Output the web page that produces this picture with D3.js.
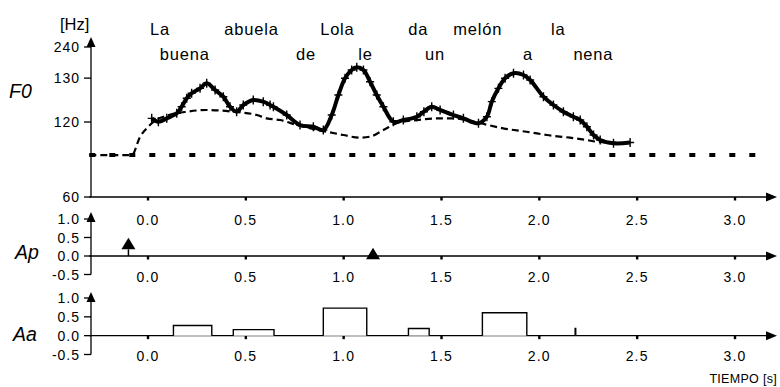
<!DOCTYPE html>
<html><head><meta charset="utf-8">
<script src="https://cdn.jsdelivr.net/npm/d3@7"></script>
<style>body{margin:0;background:#fff}svg{display:block}</style>
</head><body><svg id="c" width="780" height="387"></svg>
<script>
// ---- data ----
const timeTicks = [0, 0.5, 1.0, 1.5, 2.0, 2.5, 3.0];
const timeTickLabels = ["0.0", "0.5", "1.0", "1.5", "2.0", "2.5", "3.0"];
const f0TickValues = [60, 120, 180, 240];
const f0TickLabels = ["60", "120", "130", "240"];
const ampTicks = [-0.5, 0, 0.5, 1.0];
const ampTickLabels = ["-0.5", "0.0", "0.5", "1.0"];
const wordsTop = ["La", "abuela", "Lola", "da", "melón", "la"];
const wordsTopTime = [0.01, 0.39, 0.88, 1.33, 1.56, 2.06];
const wordsBottom = ["buena", "de", "le", "un", "a", "nena"];
const wordsBottomTime = [0.06, 0.757, 1.075, 1.416, 1.916, 2.174];
const baselineF0 = 88.4;
const f0Time = [0.019,0.053,0.096,0.147,0.172,0.198,0.223,0.266,0.300,0.343,0.385,0.419,0.453,0.487,0.538,0.589,0.624,0.641,0.709,0.777,0.845,0.896,0.939,0.973,1.007,1.041,1.067,1.101,1.135,1.169,1.203,1.254,1.305,1.374,1.41,1.450,1.493,1.561,1.612,1.689,1.732,1.757,1.791,1.825,1.868,1.919,1.953,2.021,2.072,2.123,2.174,2.209,2.243,2.277,2.311,2.379,2.464];
const f0Hz = [124.1,120.3,124.1,130.0,138.2,149.4,156.5,163.8,171.6,161.3,151.6,138.2,132.0,140.4,147.1,144.8,140.4,138.2,128.0,116.7,114.9,111.4,128.0,154.0,179.7,194.0,199.0,194.0,174.1,154.0,138.2,120.3,122.2,126.0,132.0,138.2,134.1,128.0,124.1,118.6,126.0,144.8,163.8,179.7,188.2,185.3,176.9,151.6,140.4,132.0,126.0,122.2,114.9,106.4,101.6,98.6,99.3];
const phraseTime = [-0.3,-0.083,-0.041,0.002,0.036,0.10,0.198,0.300,0.435,0.556,0.607,0.675,0.760,0.914,0.998,1.084,1.135,1.203,1.271,1.374,1.493,1.561,1.697,1.815,1.953,2.038,2.157,2.243,2.294,2.464];
const phraseHz = [88.4,88.4,104.5,115.0,121.5,127.5,132.0,134.1,132.0,128.0,124.1,122.2,116.7,109.7,106.4,103.8,104.8,111.4,118.6,122.2,124.1,124.1,118.6,113.2,109.1,106.4,103.8,101.6,100.0,98.6];
const apTime = [-0.10, 1.15];
const apAmp = [0.49, 0.22];
const aaOnset = [0.13, 0.436, 0.896, 1.331, 1.709, 2.183];
const aaOffset = [0.326, 0.644, 1.118, 1.437, 1.936, 2.186];
const aaAmp = [0.27, 0.16, 0.73, 0.19, 0.61, 0.19];

// ---- scales ----
const svg = d3.select("#c");
const FONT = "'Liberation Sans', Arial, sans-serif";
const x = d3.scaleLinear().domain([0, 3]).range([148, 735]);
const xStart = x(-0.3), xEnd = 777;
const yF0 = d3.scaleLog().domain([60, 240]).range([197, 47]);
const yAp = d3.scaleLinear().domain([-0.5, 1]).range([274.5, 219]);
const yAa = d3.scaleLinear().domain([-0.5, 1]).range([354.5, 298]);

function hAxis(y0, labelY) {
  const g = svg.append("g");
  g.append("line").attr("x1", xStart).attr("x2", xEnd - 8).attr("y1", y0).attr("y2", y0)
    .attr("stroke", "#000").attr("stroke-width", 1.3);
  g.append("path").attr("d", `M${xEnd},${y0}L${xEnd-11},${y0-4.5}L${xEnd-11},${y0+4.5}Z`).attr("fill", "#000");
  g.selectAll("rect.t").data(timeTicks).join("rect")
    .attr("x", d => x(d) - 1.2).attr("y", y0).attr("width", 2.4).attr("height", 3.5).attr("fill", "#000");
  g.selectAll("text").data(timeTicks).join("text")
    .attr("x", d => x(d)).attr("y", labelY).attr("text-anchor", "middle")
    .attr("font-family", FONT).attr("font-size", 14).attr("letter-spacing", 1.2)
    .text((d, i) => timeTickLabels[i]);
}
function vAxis(scale, bottomVal, topY, ticks, labels) {
  const g = svg.append("g");
  const ax = 91;
  g.append("line").attr("x1", ax).attr("x2", ax).attr("y1", scale(bottomVal)).attr("y2", topY + 6)
    .attr("stroke", "#000").attr("stroke-width", 1.3);
  g.append("path").attr("d", `M${ax},${topY}L${ax-4.5},${topY+10}L${ax+4.5},${topY+10}Z`).attr("fill", "#000");
  g.selectAll("line.t").data(ticks).join("line").attr("class", "t")
    .attr("x1", ax - 7).attr("x2", ax).attr("y1", d => scale(d)).attr("y2", d => scale(d))
    .attr("stroke", "#000").attr("stroke-width", 1.3);
  g.selectAll("text").data(ticks).join("text")
    .attr("x", 80).attr("y", d => scale(d)).attr("dy", "0.36em").attr("text-anchor", "end")
    .attr("font-family", FONT).attr("font-size", 14).attr("letter-spacing", 1)
    .text((d, i) => labels[i]);
}

// axes
hAxis(yF0(60), 225);
hAxis(yAp(0), 282);
hAxis(yAa(0), 361);
vAxis(yF0, 60, 37, f0TickValues, f0TickLabels);
vAxis(yAp, -0.5, 212, ampTicks, ampTickLabels);
vAxis(yAa, -0.5, 292, ampTicks, ampTickLabels);

// axis titles
svg.append("text").attr("x", 60).attr("y", 30).attr("font-family", FONT).attr("font-size", 16.5).text("[Hz]");
[["F0", 9, 98], ["Ap", 15, 259], ["Aa", 13, 341]].forEach(([t, xx, yy]) =>
  svg.append("text").attr("x", xx).attr("y", yy).attr("font-family", FONT).attr("font-size", 19.5)
    .attr("font-style", "italic").text(t));
svg.append("text").attr("x", 777).attr("y", 383).attr("text-anchor", "end")
  .attr("font-family", FONT).attr("font-size", 12.5).attr("letter-spacing", 0.3).text("TIEMPO [s]");

// words
svg.append("g").selectAll("text").data(wordsTop).join("text")
  .attr("x", (d, i) => x(wordsTopTime[i])).attr("y", 35)
  .attr("font-family", FONT).attr("font-size", 16.5).attr("letter-spacing", 0.8).text(d => d);
svg.append("g").selectAll("text").data(wordsBottom).join("text")
  .attr("x", (d, i) => x(wordsBottomTime[i])).attr("y", 60)
  .attr("font-family", FONT).attr("font-size", 16.5).attr("letter-spacing", 0.8).text(d => d);

// baseline Fb
svg.append("line").attr("x1", xStart).attr("x2", x(3.17)).attr("y1", yF0(baselineF0)).attr("y2", yF0(baselineF0))
  .attr("stroke", "#000").attr("stroke-width", 4).attr("stroke-dasharray", "6,14");

// phrase component
const phraseLine = d3.line().x(d => x(d[0])).y(d => yF0(d[1])).curve(d3.curveMonotoneX);
svg.append("path").datum(phraseTime.map((t, i) => [t, phraseHz[i]]))
  .attr("d", phraseLine).attr("fill", "none").attr("stroke", "#000").attr("stroke-width", 2.2)
  .attr("stroke-dasharray", "7,4");

// F0 contour
const f0Pts = f0Time.map((t, i) => [t, f0Hz[i]]);
const f0Line = d3.line().x(d => x(d[0])).y(d => yF0(d[1])).curve(d3.curveCatmullRom);
svg.append("path").datum(f0Pts).attr("d", f0Line).attr("fill", "none")
  .attr("stroke", "#000").attr("stroke-width", 4).attr("stroke-linejoin", "round");
svg.append("g").selectAll("path").data(f0Pts).join("path")
  .attr("transform", d => `translate(${x(d[0])},${yF0(d[1])})`)
  .attr("d", "M-4,0H4M0,-4.5V4.5").attr("stroke", "#000").attr("stroke-width", 1.4);

// Ap commands
apTime.forEach((t, i) => {
  const xx = x(t), tip = yAp(apAmp[i]), base = tip + 11.5;
  if (base < yAp(0)) svg.append("line").attr("x1", xx).attr("x2", xx).attr("y1", base).attr("y2", yAp(0))
    .attr("stroke", "#000").attr("stroke-width", 1.5);
  svg.append("path").attr("d", `M${xx},${tip}L${xx-7},${base}L${xx+7},${base}Z`).attr("fill", "#000");
});

// Aa commands
svg.append("g").selectAll("path").data(aaOnset).join("path")
  .attr("d", (d, i) => `M${x(d)},${yAa(0)}V${yAa(aaAmp[i])}H${x(aaOffset[i])}V${yAa(0)}`)
  .attr("fill", "#fff").attr("stroke", "#000").attr("stroke-width", 1.4);
</script></body></html>
